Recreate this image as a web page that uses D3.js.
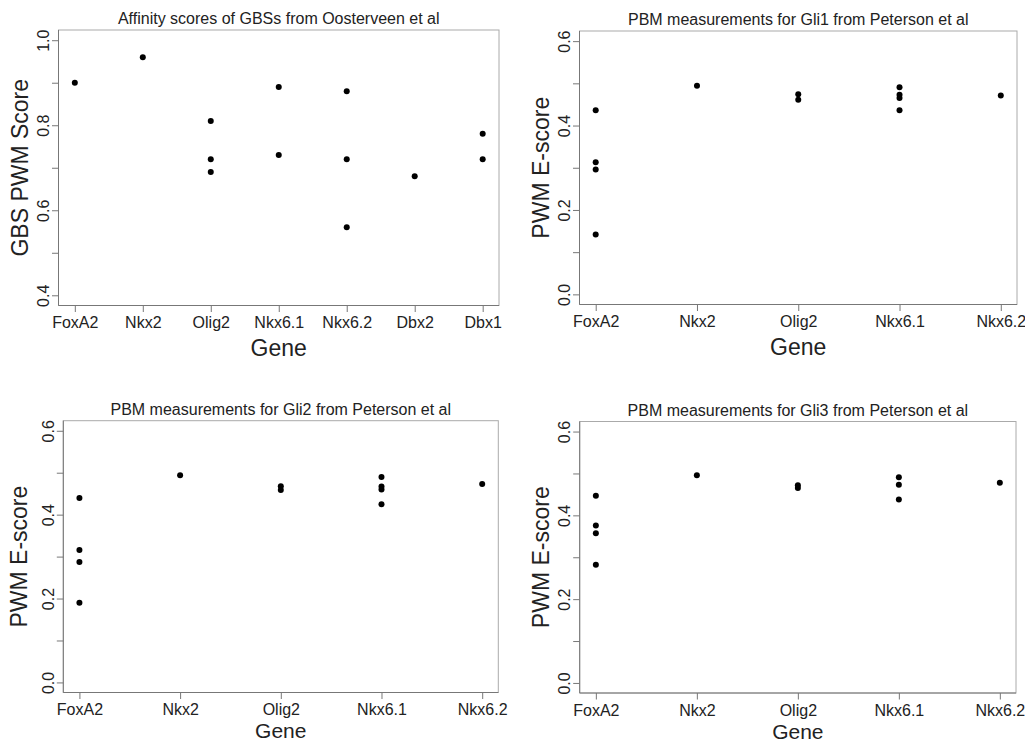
<!DOCTYPE html>
<html>
<head>
<meta charset="utf-8">
<script src="https://cdn.jsdelivr.net/npm/d3@7"></script>
<style>
  body { margin: 0; background: #fff; }
  svg text { font-family: "Liberation Sans", Arial, sans-serif; fill: #222; }
</style>
</head>
<body>
<svg id="chart" width="1025" height="743"></svg>
<script>
// Categories
var genesAll = ["FoxA2", "Nkx2", "Olig2", "Nkx6.1", "Nkx6.2", "Dbx2", "Dbx1"];
var genesPbm = ["FoxA2", "Nkx2", "Olig2", "Nkx6.1", "Nkx6.2"];

// Values per gene (one list per category)
var gbsScores = [[0.90], [0.96], [0.81, 0.72, 0.69], [0.89, 0.73], [0.88, 0.72, 0.56], [0.68], [0.78, 0.72]];
var gli1Scores = [[0.436, 0.313, 0.296, 0.142], [0.494], [0.474, 0.461], [0.491, 0.473, 0.465, 0.436], [0.471]];
var gli2Scores = [[0.440, 0.316, 0.287, 0.190], [0.494], [0.468, 0.459], [0.490, 0.467, 0.460, 0.425], [0.473]];
var gli3Scores = [[0.447, 0.376, 0.357, 0.282], [0.496], [0.472, 0.465], [0.491, 0.473, 0.438], [0.478]];

// Axis ticks
var gbsTicks = [0.4, 0.5, 0.6, 0.7, 0.8, 0.9, 1.0];
var gbsLabels = [0.4, 0.6, 0.8, 1.0];
var pbmTicks = [0.0, 0.1, 0.2, 0.3, 0.4, 0.5, 0.6];
var pbmLabels = [0.0, 0.2, 0.4, 0.6];

var titles = [
    "Affinity scores of GBSs from Oosterveen et al",
    "PBM measurements for Gli1 from Peterson et al",
    "PBM measurements for Gli2 from Peterson et al",
    "PBM measurements for Gli3 from Peterson et al"
];
var yTitles = ["GBS PWM Score", "PWM E-score", "PWM E-score", "PWM E-score"];

var svg = d3.select("#chart");

// Panel layout (plot box in pixels)
var panels = [
    {x0: 58.5, x1: 499, y0: 30, y1: 305.5, genes: genesAll, values: gbsScores, ticks: gbsTicks, labels: gbsLabels, ylim: [0.4, 1.0], ylabX: 30.5, xlabY: 50, xlabSize: 23},
    {x0: 579.5, x1: 1017, y0: 31, y1: 304.5, genes: genesPbm, values: gli1Scores, ticks: pbmTicks, labels: pbmLabels, ylim: [0, 0.6], ylabX: 30.5, xlabY: 50, xlabSize: 23},
    {x0: 63.3, x1: 498.3, y0: 420.7, y1: 692.5, genes: genesPbm, values: gli2Scores, ticks: pbmTicks, labels: pbmLabels, ylim: [0, 0.6], ylabX: 36.5, xlabY: 45.5, xlabSize: 21},
    {x0: 579.7, x1: 1016, y0: 421.5, y1: 693, genes: genesPbm, values: gli3Scores, ticks: pbmTicks, labels: pbmLabels, ylim: [0, 0.6], ylabX: 31, xlabY: 45.5, xlabSize: 21}
];

panels.forEach(function (p, i) {
    var g = svg.append("g");
    var n = p.genes.length;
    var padX = 0.04 * (n - 1);
    var padY = 0.04 * (p.ylim[1] - p.ylim[0]);

    // R-style scales with 4% padding
    var xScale = d3.scaleLinear()
        .domain([1 - padX, n + padX])
        .range([p.x0, p.x1]);
    var yScale = d3.scaleLinear()
        .domain([p.ylim[0] - padY, p.ylim[1] + padY])
        .range([p.y1, p.y0]);

    // box
    g.append("rect")
        .attr("x", p.x0).attr("y", p.y0)
        .attr("width", p.x1 - p.x0).attr("height", p.y1 - p.y0)
        .attr("fill", "none").attr("stroke", "#aaa").attr("stroke-width", 1);

    // x axis
    var xAxis = d3.axisBottom(xScale)
        .tickValues(d3.range(1, n + 1))
        .tickFormat(function (d) { return p.genes[d - 1]; })
        .tickSize(6.5).tickPadding(5);
    var gx = g.append("g")
        .attr("transform", "translate(0," + p.y1 + ")")
        .call(xAxis);
    gx.select(".domain").attr("stroke", "#777").attr("d", "M" + p.x0 + ",0H" + p.x1);
    gx.selectAll(".tick line").attr("stroke", "#777");
    gx.selectAll(".tick text").attr("font-size", 16).attr("fill", "#222")
        .attr("font-family", "Liberation Sans, Arial, sans-serif");

    // y axis
    var yAxis = d3.axisLeft(yScale)
        .tickValues(p.ticks)
        .tickFormat(function (d) {
            return p.labels.some(function (l) { return Math.abs(l - d) < 1e-9; }) ? d3.format(".1f")(d) : "";
        })
        .tickSize(6.5).tickPadding(3);
    var gy = g.append("g")
        .attr("transform", "translate(" + p.x0 + ",0)")
        .call(yAxis);
    gy.select(".domain").attr("stroke", "#777").attr("d", "M0," + p.y0 + "V" + p.y1);
    gy.selectAll(".tick line").attr("stroke", "#777");
    gy.selectAll(".tick text")
        .attr("font-size", 16).attr("fill", "#222")
        .attr("font-family", "Liberation Sans, Arial, sans-serif")
        .attr("x", null).attr("dy", null)
        .attr("text-anchor", "middle")
        .attr("transform", "translate(-9.5,0) rotate(-90)");

    // points
    var pts = [];
    p.values.forEach(function (vals, k) {
        vals.forEach(function (v) { pts.push({gene: k + 1, value: v}); });
    });
    g.selectAll("circle")
        .data(pts)
        .enter()
        .append("circle")
        .attr("cx", function (d) { return xScale(d.gene); })
        .attr("cy", function (d) { return yScale(d.value); })
        .attr("r", 3)
        .attr("fill", "#000");

    // titles
    var cx = (p.x0 + p.x1) / 2;
    g.append("text")
        .attr("x", cx).attr("y", p.y0 - 6)
        .attr("text-anchor", "middle")
        .attr("font-size", 16)
        .text(titles[i]);

    g.append("text")
        .attr("x", cx).attr("y", p.y1 + p.xlabY)
        .attr("text-anchor", "middle")
        .attr("font-size", p.xlabSize)
        .text("Gene");

    g.append("text")
        .attr("transform", "translate(" + (p.x0 - p.ylabX) + "," + ((p.y0 + p.y1) / 2) + ") rotate(-90)")
        .attr("text-anchor", "middle")
        .attr("font-size", 23)
        .text(yTitles[i]);
});
</script>
</body>
</html>
